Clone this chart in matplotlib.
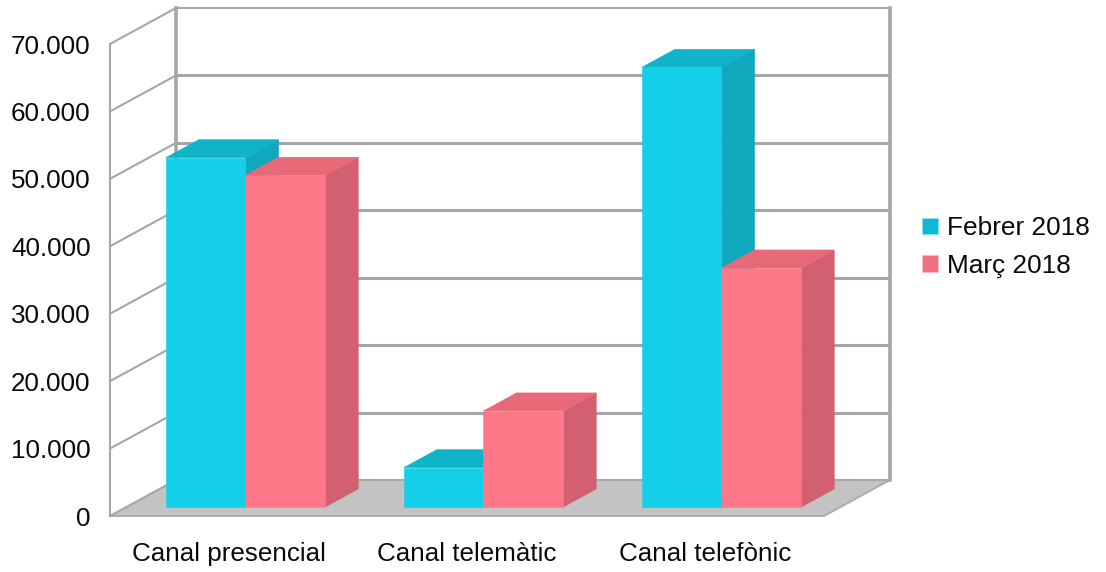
import matplotlib
matplotlib.use("Agg")
import matplotlib.pyplot as plt
from matplotlib.patches import Patch, Polygon

plt.rcParams["font.family"] = ["Liberation Sans", "DejaVu Sans"]

categories = ["Canal presencial", "Canal telemàtic", "Canal telefònic"]
febrer = [51800, 5830, 65200]
marc = [49200, 14250, 35450]
y_ticks = [0, 10000, 20000, 30000, 40000, 50000, 60000, 70000]
y_labels = ["0", "10.000", "20.000", "30.000", "40.000", "50.000", "60.000", "70.000"]

W, H = 1106, 572
GRID = "#A6A6A6"
FLOOR = "#C3C3C3"
TEXT = "#0A0A0A"
# front, top, side
CYAN = ("#13CFE8", "#10B4C9", "#0FA8BC")
PINK = ("#FF7889", "#E86A78", "#D26070")

fig = plt.figure(figsize=(W / 100, H / 100), dpi=100)
ax = fig.add_axes([110 / W, (H - 516) / H, 714 / W, 472 / H])
ax.set_xlim(0, 3)
ax.set_ylim(0, 70000)

# depth of the box, in data units (66 px right, 36 px up)
DX = 66 / 238
DY = 36 * 70000 / 472
BAR_W = 0.335
BAR_START = 0.165


def face(pts, color, z):
    ax.add_patch(Polygon(pts, closed=True, facecolor=color, edgecolor=color,
                         linewidth=0.4, clip_on=False, zorder=z))


def bar3d(x, v, colors, z):
    # bar sits between 25% and 75% of the depth
    x0, y0 = x + DX * 0.25, DY * 0.25
    x1 = x0 + BAR_W
    top = y0 + v
    dx, dy = DX * 0.5, DY * 0.5
    face([(x1, y0), (x1 + dx, y0 + dy), (x1 + dx, top + dy), (x1, top)], colors[2], z)
    face([(x0, top), (x1, top), (x1 + dx, top + dy), (x0 + dx, top + dy)], colors[1], z)
    face([(x0, y0), (x1, y0), (x1, top), (x0, top)], colors[0], z)


# floor
face([(0, 0), (3, 0), (3 + DX, DY), (DX, DY)], FLOOR, 1)
ax.plot([0, 3, 3 + DX], [0, 0, DY], color="#ABABAB", lw=1.3, clip_on=False, zorder=2)

# back wall and side wall grid
for v in y_ticks:
    back_lw = 1.5 if v in (0, 70000) else 2.2
    ax.plot([DX, 3 + DX], [v + DY, v + DY], color=GRID, lw=back_lw, clip_on=False, zorder=2,
            solid_capstyle="butt")
    ax.plot([0, DX], [v, v + DY], color=GRID, lw=1.5, clip_on=False, zorder=2)
ax.plot([DX, DX], [DY, 70000 + DY], color=GRID, lw=2.6, clip_on=False, zorder=2)
ax.plot([3 + DX, 3 + DX], [DY, 70000 + DY], color=GRID, lw=2.6, clip_on=False, zorder=2)
ax.plot([0, 0], [0, 70000], color=GRID, lw=1.5, clip_on=False, zorder=2)

# bars, left to right so nearer faces overlap
for i in range(len(categories)):
    bar3d(i + BAR_START, febrer[i], CYAN, 3 + i * 2)
    bar3d(i + BAR_START + BAR_W, marc[i], PINK, 4 + i * 2)

for s in ax.spines.values():
    s.set_visible(False)
ax.patch.set_alpha(0)
ax.set_xticks([0.5, 1.5, 2.5])
ax.set_xticklabels(categories, fontsize=18.7, color=TEXT)
ax.set_yticks(y_ticks)
ax.set_yticklabels(y_labels, fontsize=18.7, color=TEXT)
ax.tick_params(axis="both", length=0)
ax.tick_params(axis="x", pad=19)
ax.tick_params(axis="y", pad=14)

handles = [Patch(facecolor="#10B9D2", edgecolor="#8FE3EE", linewidth=0.5, label="Febrer 2018"),
           Patch(facecolor="#F06F80", edgecolor="#F9BCC4", linewidth=0.5, label="Març 2018")]
fig.legend(handles=handles, loc="center left", bbox_to_anchor=(917 / W, (H - 247) / H),
           frameon=False, fontsize=18.9, handlelength=0.6, handleheight=0.6,
           handletextpad=0.34, labelspacing=0.51, borderpad=0.2, borderaxespad=0,
           labelcolor=TEXT)

fig.savefig("out.png", dpi=100)
